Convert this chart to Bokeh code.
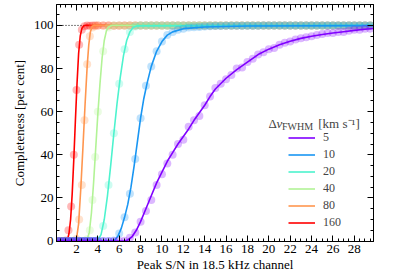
from bokeh.plotting import figure
from bokeh.models import (LinearAxis, SingleIntervalTicker, Legend, LegendItem,
                          Label, Range1d, CustomJSTickFormatter)
from bokeh.embed import file_html
from bokeh.resources import INLINE

FONT = "Liberation Serif"

# ---------------- data ----------------
widths = ["5", "10", "20", "40", "80", "160"]
colors = ["#8000ff", "#1996f3", "#4df3ce", "#b2f396", "#ff964f", "#ff0000"]

# injected-signal grid (peak S/N)
snr = [0.25, 0.5, 0.75, 1.0, 1.25, 1.5, 1.75, 2.0, 2.25, 2.5, 2.75, 3.0, 3.25, 3.5, 3.75, 4.0,
       4.5, 5.0, 5.5, 6.0, 6.5, 7.0, 7.5, 8.0, 8.5, 9.0, 9.5, 10.0, 10.5, 11.0, 11.5, 12.0,
       12.5, 13.0, 13.5, 14.0, 14.5, 15.0, 15.5, 16.0, 16.5, 17.0, 17.5, 18.0, 18.5, 19.0,
       19.5, 20.0, 20.5, 21.0, 21.5, 22.0, 22.5, 23.0, 23.5, 24.0, 24.5, 25.0, 25.5, 26.0,
       26.5, 27.0, 27.5, 28.0, 28.5, 29.0, 29.5]

# measured completeness (per cent) on the grid above
obs_160 = [0, 0, 0, 0.3, 5, 16, 40, 70, 91, 98, 99.6, 100, 99.9, 100, 100, 100,
           100, 100, 99.9, 100, 100, 100, 100, 100, 100, 100,
           100, 100, 100, 100, 100, 100, 100, 100, 100, 100,
           100, 100, 100, 100, 100, 100, 100, 100, 100, 100,
           100, 100, 100, 100, 100, 100, 100, 100, 100, 100,
           100, 100, 100, 100, 100, 100, 100, 100, 100, 100, 100]
obs_80 = [0, 0, 0, 0, 0, 0, 0, 1, 10, 26, 56, 82, 95, 99, 99.8, 100,
          100, 100, 100, 99.9, 100, 100, 100, 100, 100, 100,
          100, 100, 100, 100, 100, 100, 100, 100, 100, 100,
          100, 100, 100, 100, 100, 100, 100, 100, 100, 100,
          100, 100, 100, 100, 100, 100, 100, 100, 100, 100,
          100, 100, 100, 100, 100, 100, 100, 100, 100, 100, 100]
obs_40 = [0, 0, 0, 0, 0, 0, 0, 0, 0, 0, 0, 0.8, 5, 19, 39, 60,
          88, 99, 100, 100, 99.9, 100, 100, 100, 100, 100,
          100, 100, 100, 100, 100, 100, 100, 100, 100, 100,
          100, 100, 100, 100, 100, 100, 100, 100, 100, 100,
          100, 100, 100, 100, 100, 100, 100, 100, 100, 100,
          100, 100, 100, 100, 100, 100, 100, 100, 100, 100, 100]
obs_20 = [0, 0, 0, 0, 0, 0, 0, 0, 0, 0, 0, 0, 0, 0, 0, 0.5,
          7, 26, 50, 73, 89, 97, 99.5, 100, 100, 100,
          100, 100, 99.9, 100, 100, 100, 100, 100, 100, 100,
          100, 100, 100, 100, 100, 100, 100, 100, 100, 100,
          100, 100, 100, 100, 100, 100, 100, 100, 100, 100,
          100, 100, 100, 100, 100, 100, 100, 100, 100, 100, 100]
obs_10 = [0, 0, 0, 0, 0, 0, 0, 0, 0, 0, 0, 0, 0, 0, 0, 0,
          0, 0, 0.3, 3.5, 11, 22, 38, 57, 72, 81,
          88, 92.5, 95.5, 97, 98, 98.5, 99, 99.2, 99.3, 99.5,
          99.6, 99.7, 99.7, 99.8, 99.8, 99.8, 99.9, 99.9, 99.9, 99.9,
          100, 100, 100, 100, 100, 100, 100, 100, 100, 100,
          100, 100, 100, 100, 100, 100, 100, 100, 100, 100, 100]
obs_5 = [0, 0, 0, 0, 0, 0, 0, 0, 0, 0, 0, 0, 0, 0, 0, 0,
         0, 0, 0, 0, 0.2, 1.5, 4, 9, 14, 19,
         26, 31, 36, 40, 45, 47, 53, 56, 58, 63,
         67, 71, 73, 75, 77, 80, 80.5, 83, 84.5, 86.5,
         87.5, 89, 89.5, 91, 92, 92.5, 93.5, 94, 94.5, 95,
         95.5, 96, 96.5, 96.5, 97, 97, 97.5, 98, 98, 98.5, 98.5]

# fitted completeness curves
fit_x_160 = [0.13, 1.0, 1.15, 1.3, 1.45, 1.6, 1.75, 1.9, 2.05, 2.2, 2.35, 2.5, 2.65, 2.8, 29.8]
fit_y_160 = [0, 0, 0.5, 3.5, 10, 22, 38, 56, 73, 87, 95, 98.5, 99.7, 100, 100]
fit_x_80 = [0.13, 1.8, 2.0, 2.2, 2.4, 2.6, 2.8, 3.0, 3.15, 3.3, 3.45, 3.6, 29.8]
fit_y_80 = [0, 0, 1, 8, 24, 43, 63, 81, 91, 97, 99.3, 100, 100]
fit_x_40 = [0.13, 2.8, 3.0, 3.2, 3.4, 3.6, 3.8, 4.0, 4.2, 4.4, 4.6, 4.8, 5.0, 5.3, 29.8]
fit_y_40 = [0, 0, 0.8, 4, 13, 27, 43, 59, 73, 85, 93, 97.5, 99.3, 100, 100]
fit_x_20 = [0.13, 3.8, 4.0, 4.3, 4.6, 4.9, 5.2, 5.5, 5.8, 6.1, 6.4, 6.7, 7.0, 7.3, 7.7, 29.8]
fit_y_20 = [0, 0, 0.5, 3, 10, 21, 35, 50, 64, 76, 86, 93, 97, 99, 99.8, 100]
fit_x_10 = [0.13, 5.3, 5.6, 5.9, 6.2, 6.5, 6.8, 7.1, 7.4, 7.7, 8.0, 8.3, 8.6, 9.0, 9.5,
            10.0, 10.5, 11.0, 12.0, 14.0, 18.0, 29.8]
fit_y_10 = [0, 0, 0.5, 2.5, 6, 11, 17, 25, 35, 46, 57, 66, 73, 81, 88,
            92.5, 95.5, 97, 98.5, 99.3, 99.7, 99.9]
fit_x_5 = [0.13, 6.5, 6.8, 7.2, 7.6, 8.0, 8.5, 9.0, 9.5, 10.0, 10.5, 11.0, 11.5, 12.0,
           12.5, 13.0, 13.5, 14.0, 14.5, 15.0, 16.0, 17.0, 18.0, 19.0, 20.0, 21.0, 22.0,
           23.0, 24.0, 25.0, 26.0, 27.0, 28.0, 29.0, 29.8]
fit_y_5 = [0, 0, 0.5, 2, 5, 9, 15, 21, 27, 32, 37, 41, 45, 48.5,
           52, 56, 59.5, 63, 67, 70.5, 75.5, 79.5, 83, 86.5, 89, 91, 92.7,
           94, 95, 95.8, 96.5, 97.1, 97.7, 98.2, 98.6]

obs_all = [obs_5, obs_10, obs_20, obs_40, obs_80, obs_160]
fit_x_all = [fit_x_5, fit_x_10, fit_x_20, fit_x_40, fit_x_80, fit_x_160]
fit_y_all = [fit_y_5, fit_y_10, fit_y_20, fit_y_40, fit_y_80, fit_y_160]

# ---------------- figure ----------------
p = figure(frame_width=317, frame_height=237, output_backend="svg", toolbar_location=None,
           x_range=Range1d(0.13, 29.8), y_range=Range1d(-0.2, 109.7),
           min_border_left=56, min_border_right=12, min_border_top=4, min_border_bottom=36)
p.grid.visible = False
p.outline_line_color = "black"
p.background_fill_color = "white"
p.border_fill_color = "white"

xt = SingleIntervalTicker(interval=2, num_minor_ticks=4)
yt = SingleIntervalTicker(interval=20, num_minor_ticks=4)


def style_axis(ax):
    ax.major_tick_in = 6
    ax.major_tick_out = 0
    ax.minor_tick_in = 3
    ax.minor_tick_out = 0
    ax.axis_line_color = "black"
    ax.major_tick_line_color = "black"
    ax.minor_tick_line_color = "black"
    ax.major_label_text_font = FONT
    ax.major_label_text_font_size = "13px"
    ax.major_label_text_color = "black"
    ax.axis_label_text_font = FONT
    ax.axis_label_text_font_size = "13px"
    ax.axis_label_text_font_style = "normal"
    ax.axis_label_text_color = "black"


p.xaxis[0].ticker = xt
p.yaxis[0].ticker = yt
style_axis(p.xaxis[0])
style_axis(p.yaxis[0])
p.xaxis[0].axis_label = "Peak S/N in 18.5 kHz channel"
p.yaxis[0].axis_label = "Completeness [per cent]"
p.xaxis[0].major_label_standoff = 3
p.xaxis[0].axis_label_standoff = 1
p.yaxis[0].major_label_standoff = 3
p.yaxis[0].axis_label_standoff = 4

blank = CustomJSTickFormatter(code="return ''")
top = LinearAxis(ticker=xt, formatter=blank, major_label_standoff=0)
right = LinearAxis(ticker=yt, formatter=blank, major_label_standoff=0)
style_axis(top)
style_axis(right)
p.add_layout(top, "above")
p.add_layout(right, "right")

# dotted reference at 100 per cent
p.line([0.13, 29.8], [100, 100], line_color="black", line_width=1, line_dash="1 2")

line_renderers = {}
for i in reversed(range(len(widths))):
    p.scatter(snr, obs_all[i], size=8, fill_color=colors[i], fill_alpha=0.28,
              line_alpha=0)
    r = p.line(fit_x_all[i], fit_y_all[i], line_color=colors[i], line_width=1.6)
    line_renderers[widths[i]] = r

legend = Legend(items=[LegendItem(label=w, renderers=[line_renderers[w]]) for w in widths],
                location=(232, 11), padding=0, margin=0, spacing=2,
                glyph_width=27, glyph_height=15, label_height=15, label_standoff=8,
                border_line_alpha=0, background_fill_alpha=0,
                label_text_font=FONT, label_text_font_size="12px")
p.add_layout(legend)

# legend heading
p.add_layout(Label(x=19.97, y=54.7, text="Δ", text_font=FONT, text_font_size="13px",
                   text_baseline="alphabetic"))
p.add_layout(Label(x=20.73, y=54.7, text="v", text_font=FONT, text_font_size="13px",
                   text_font_style="italic", text_baseline="alphabetic"))
p.add_layout(Label(x=21.23, y=53.3, text="FWHM", text_font=FONT, text_font_size="10px",
                   text_baseline="alphabetic"))
p.add_layout(Label(x=24.63, y=54.7, text="[km s⁻¹]", text_font=FONT, text_font_size="13px",
                   text_baseline="alphabetic"))

open("out.html", "w").write(file_html(p, INLINE))
